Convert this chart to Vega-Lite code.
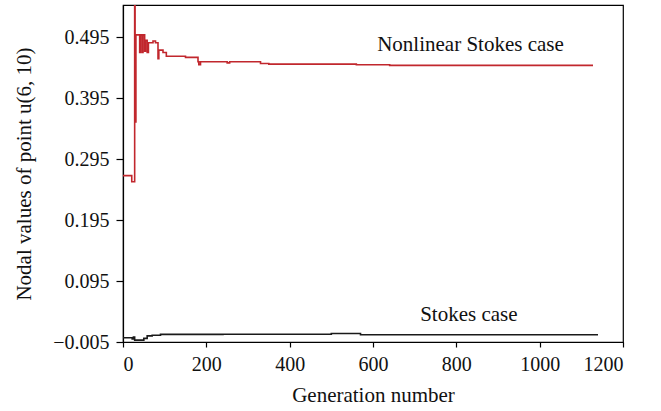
{
  "$schema": "https://vega.github.io/schema/vega-lite/v6.json",
  "autosize": "none",
  "width": 500,
  "height": 337,
  "padding": {"left": 123, "top": 5, "right": 38, "bottom": 69},
  "background": "white",
  "config": {
    "view": {"stroke": "#000", "strokeWidth": 1.2},
    "font": "Liberation Serif",
    "axis": {
      "grid": false,
      "domainColor": "#000",
      "domainWidth": 1.2,
      "tickColor": "#000",
      "tickWidth": 1.2,
      "labelFont": "Liberation Serif",
      "titleFont": "Liberation Serif",
      "labelColor": "#111",
      "titleColor": "#111",
      "labelFontSize": 20,
      "titleFontSize": 21,
      "titleFontWeight": "normal"
    }
  },
  "datasets": {
    "series": [
      {"s": "Nonlinear", "g": 0, "v": 0.268},
      {"s": "Nonlinear", "g": 19, "v": 0.268},
      {"s": "Nonlinear", "g": 21, "v": 0.258},
      {"s": "Nonlinear", "g": 27, "v": 0.258},
      {"s": "Nonlinear", "g": 28, "v": 0.6},
      {"s": "Nonlinear", "g": 29, "v": 0.356},
      {"s": "Nonlinear", "g": 31, "v": 0.499},
      {"s": "Nonlinear", "g": 40, "v": 0.47},
      {"s": "Nonlinear", "g": 42, "v": 0.499},
      {"s": "Nonlinear", "g": 46, "v": 0.47},
      {"s": "Nonlinear", "g": 48, "v": 0.499},
      {"s": "Nonlinear", "g": 52, "v": 0.472},
      {"s": "Nonlinear", "g": 54, "v": 0.49},
      {"s": "Nonlinear", "g": 58, "v": 0.47},
      {"s": "Nonlinear", "g": 61, "v": 0.486},
      {"s": "Nonlinear", "g": 72, "v": 0.489},
      {"s": "Nonlinear", "g": 78, "v": 0.486},
      {"s": "Nonlinear", "g": 84, "v": 0.46},
      {"s": "Nonlinear", "g": 86, "v": 0.474},
      {"s": "Nonlinear", "g": 96, "v": 0.47},
      {"s": "Nonlinear", "g": 104, "v": 0.464},
      {"s": "Nonlinear", "g": 150, "v": 0.462},
      {"s": "Nonlinear", "g": 180, "v": 0.455},
      {"s": "Nonlinear", "g": 182, "v": 0.45},
      {"s": "Nonlinear", "g": 186, "v": 0.455},
      {"s": "Nonlinear", "g": 250, "v": 0.453},
      {"s": "Nonlinear", "g": 256, "v": 0.455},
      {"s": "Nonlinear", "g": 330, "v": 0.452},
      {"s": "Nonlinear", "g": 350, "v": 0.451},
      {"s": "Nonlinear", "g": 380, "v": 0.451},
      {"s": "Nonlinear", "g": 560, "v": 0.45},
      {"s": "Nonlinear", "g": 640, "v": 0.449},
      {"s": "Nonlinear", "g": 1128, "v": 0.449},
      {"s": "Stokes", "g": 0, "v": 0.002},
      {"s": "Stokes", "g": 20, "v": 0.002},
      {"s": "Stokes", "g": 22, "v": 0.0},
      {"s": "Stokes", "g": 25, "v": 0.003},
      {"s": "Stokes", "g": 28, "v": -0.002},
      {"s": "Stokes", "g": 34, "v": -0.002},
      {"s": "Stokes", "g": 50, "v": 0.001},
      {"s": "Stokes", "g": 58, "v": 0.005},
      {"s": "Stokes", "g": 70, "v": 0.006},
      {"s": "Stokes", "g": 90, "v": 0.0075},
      {"s": "Stokes", "g": 240, "v": 0.0078},
      {"s": "Stokes", "g": 500, "v": 0.009},
      {"s": "Stokes", "g": 570, "v": 0.0068},
      {"s": "Stokes", "g": 1140, "v": 0.0068}
    ],
    "labels": [
      {"t": "Nonlinear Stokes case", "g": 834, "v": 0.482},
      {"t": "Stokes case", "g": 830, "v": 0.039}
    ]
  },
  "layer": [
    {
      "data": {"name": "series"},
      "mark": {"type": "line", "interpolate": "step-after", "clip": true, "strokeWidth": 1.6},
      "encoding": {
        "x": {
          "field": "g", "type": "quantitative",
          "scale": {"domain": [0, 1200], "nice": false},
          "axis": {"values": [0, 200, 400, 600, 800, 1000, 1200], "format": "d", "title": "Generation number", "tickSize": 5, "labelPadding": 7, "titlePadding": 10}
        },
        "y": {
          "field": "v", "type": "quantitative",
          "scale": {"domain": [-0.005, 0.548], "nice": false, "zero": false},
          "axis": {"values": [-0.005, 0.095, 0.195, 0.295, 0.395, 0.495], "format": ".3f", "title": "Nodal values of point u(6, 10)", "tickSize": 7, "labelPadding": 7, "titlePadding": 18}
        },
        "color": {
          "field": "s", "type": "nominal",
          "scale": {"domain": ["Nonlinear", "Stokes"], "range": ["#c1272d", "#1a1a1a"]},
          "legend": null
        }
      }
    },
    {
      "data": {"name": "labels"},
      "mark": {"type": "text", "font": "Liberation Serif", "fontSize": 21, "color": "#111", "align": "center", "baseline": "middle"},
      "encoding": {
        "x": {"field": "g", "type": "quantitative"},
        "y": {"field": "v", "type": "quantitative"},
        "text": {"field": "t"}
      }
    }
  ]
}
